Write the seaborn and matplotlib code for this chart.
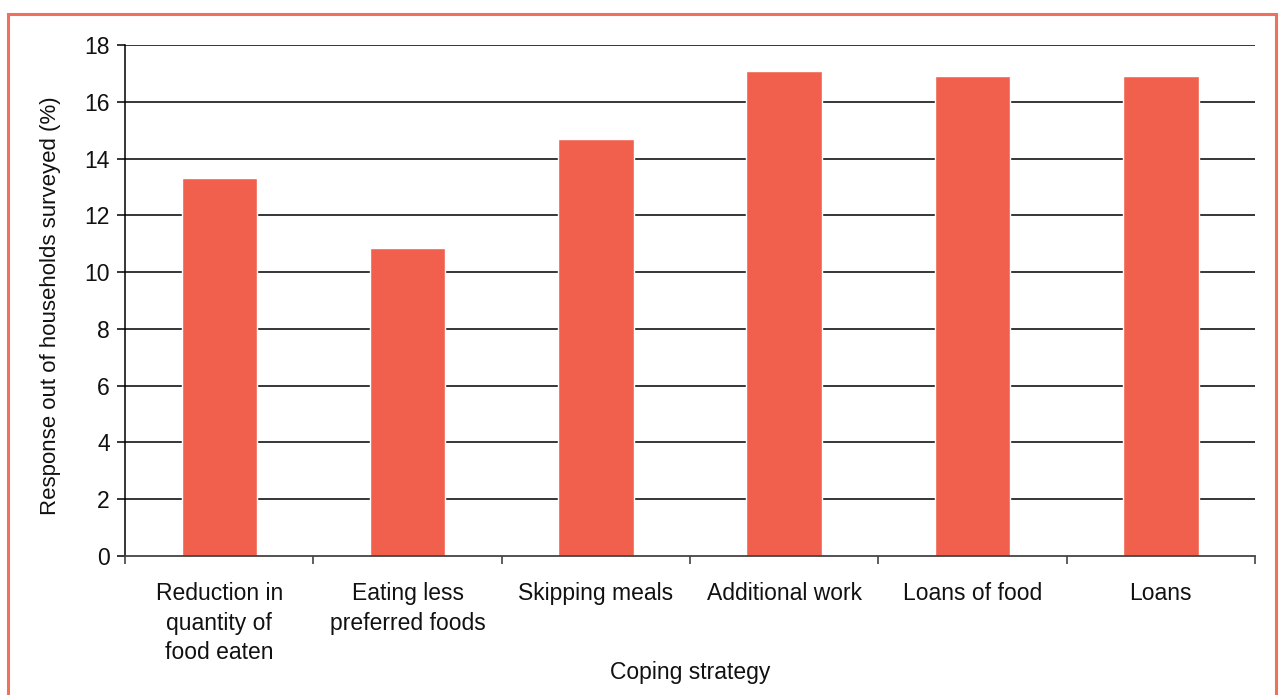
import matplotlib
matplotlib.use("Agg")
import matplotlib.pyplot as plt
import seaborn as sns
import pandas as pd
from matplotlib.patches import Rectangle

categories = ["Reduction in\nquantity of\nfood eaten", "Eating less\npreferred foods",
              "Skipping meals", "Additional work", "Loans of food", "Loans"]
values = [13.3, 10.85, 14.7, 17.1, 16.9, 16.9]
yticks = [0, 2, 4, 6, 8, 10, 12, 14, 16, 18]

sns.set_theme(style="white")
plt.rcParams['font.family'] = ['Liberation Sans', 'DejaVu Sans']

df = pd.DataFrame({"strategy": categories, "value": values})

fig = plt.figure(figsize=(12.79, 6.95), dpi=100)
ax = fig.add_axes([125/1279, 1-556/695, (1255-125)/1279, (556-45)/695])

sns.barplot(data=df, x="strategy", y="value", color="#F0604C", width=0.4,
            saturation=1, ax=ax, zorder=3)

FS = 16.5
ax.set_ylim(0, 18)
ax.set_xlim(-0.5, len(categories) - 0.5)
ax.set_yticks(yticks)
ax.set_yticklabels([str(t) for t in yticks], fontsize=FS, color="#111111")
for t in yticks[1:]:
    ax.axhline(t, color="black", lw=1.1, zorder=1)

ax.set_xticks(range(len(categories)))
ax.set_xticklabels(categories, fontsize=FS, color="#111111", linespacing=1.36, va="top")
ax.set_xticks([i - 0.5 for i in range(len(categories) + 1)], minor=True)
ax.tick_params(axis="x", which="major", length=0, pad=19)
ax.tick_params(axis="x", which="minor", length=6, width=1.1, color="#333333", direction="out", bottom=True)
ax.tick_params(axis="y", length=6, width=1.1, color="black", direction="out", left=True, pad=5)

for s in ["top", "right"]:
    ax.spines[s].set_visible(False)
ax.spines["left"].set_color("black")
ax.spines["left"].set_linewidth(1.1)
ax.spines["bottom"].set_color("#444444")
ax.spines["bottom"].set_linewidth(1.3)
ax.spines["bottom"].set_zorder(4)

ax.set_xlabel("Coping strategy", fontsize=FS, color="#111111")
ax.xaxis.label.set_va("center")
ax.xaxis.set_label_coords(0.5, (556 - 673) / 511)
ax.set_ylabel("Response out of households surveyed (%)", fontsize=16, color="#111111")
ax.yaxis.label.set_va("center")
ax.yaxis.set_label_coords((51 - 125) / 1130, 0.5 - 5.5 / 511)

border = Rectangle((7.5/1279, -0.05), (1276-7.5)/1279, 1.05 - 13.5/695,
                   transform=fig.transFigure, fill=False, edgecolor="#F0705E", lw=2.2,
                   clip_on=False)
fig.patches.append(border)

fig.savefig("out.png", dpi=100)
